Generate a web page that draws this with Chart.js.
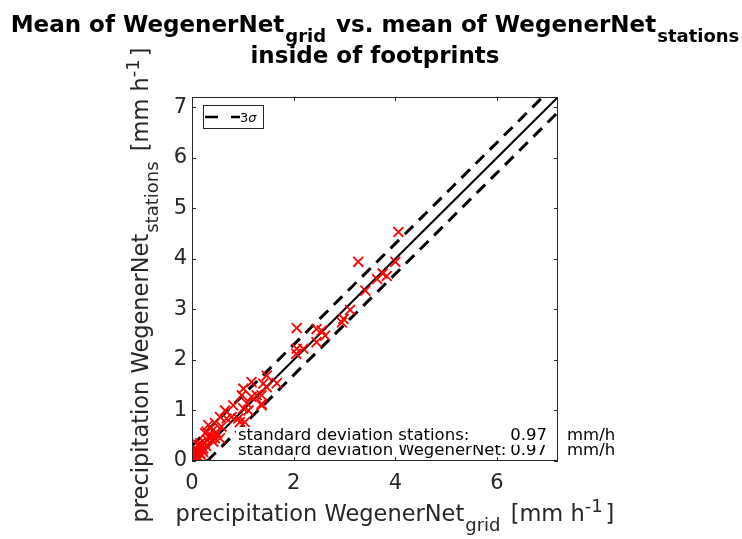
<!DOCTYPE html>
<html>
<head>
<meta charset="utf-8">
<script src="https://cdn.jsdelivr.net/npm/chart.js@4.4.0/dist/chart.umd.min.js"></script>
<style>
  html, body { margin: 0; padding: 0; background: #fff; }
</style>
</head>
<body>
<canvas id="scatter-chart" width="742" height="539"></canvas>
<script>
// mean precipitation per footprint, grid (x) vs stations (y), mm/h
var gridMean = [
  4.06, 3.27, 4.00, 3.75, 3.83, 3.64, 3.41, 3.11, 2.98, 2.95,
  2.06, 2.45, 2.55, 2.62, 2.45, 2.06, 2.19, 2.05, 1.67, 1.40,
  1.47, 1.37, 1.27, 0.98, 1.37, 1.17, 1.08, 1.01, 1.11, 0.78,
  0.68, 0.91, 0.94, 1.04, 0.45, 0.58, 0.29, 0.49, 0.35, 0.55,
  0.16, 0.42, 0.22, 0.09, 0.06, 0.16, 0.00, 1.01, 1.17, 0.32,
  0.26, 0.55, 0.65, 0.81, 0.45, 1.37, 1.47, 0.02, 0.04, 0.05,
  0.08, 0.10, 0.12, 0.13, 0.18, 0.20, 0.03, 0.25, 0.28, 0.15,
  0.07, 0.01, 0.22, 0.30, 0.10, 0.00, 0.12, 0.35, 0.40, 0.05
];
var stationMean = [
  4.53, 3.94, 3.94, 3.71, 3.66, 3.60, 3.37, 2.99, 2.81, 2.74,
  2.63, 2.61, 2.58, 2.48, 2.35, 2.22, 2.22, 2.12, 1.54, 1.53,
  1.46, 1.30, 1.30, 1.30, 1.10, 1.27, 1.14, 1.04, 1.00, 0.87,
  0.84, 0.84, 0.77, 0.77, 0.75, 0.68, 0.58, 0.55, 0.45, 0.45,
  0.35, 0.38, 0.25, 0.22, 0.08, 0.15, 0.00, 1.43, 1.56, 0.71,
  0.55, 0.87, 1.00, 1.10, 0.45, 1.13, 1.69, 0.05, 0.02, 0.12,
  0.04, 0.10, 0.20, 0.06, 0.12, 0.22, 0.18, 0.35, 0.30, 0.28,
  0.15, 0.01, 0.18, 0.42, 0.00, 0.08, 0.32, 0.50, 0.60, 0.25
];
var diagX = [0, 7.2];
var diagY = [0, 7.2];
var upperX = [0, 6.9];
var upperY = [0.3, 7.2];
var lowerX = [0.3, 7.2];
var lowerY = [0, 6.9];
var xTicks = [0, 2, 4, 6];
var yTicks = [0, 1, 2, 3, 4, 5, 6, 7];
var axisMax = 7.2;
var stdStations = '0.97';
var stdWegenerNet = '0.97';

var FONT = '"DejaVu Sans", sans-serif';
var AXIS_COLOR = '#262626';

function toPoints(xs, ys) {
  var pts = [];
  for (var i = 0; i < xs.length; i++) {
    pts.push({ x: xs[i], y: ys[i] });
  }
  return pts;
}

// text with sub/superscript pieces, drawn on one baseline
function drawRich(ctx, parts, x, y, size, weight, align) {
  var total = 0;
  for (var i = 0; i < parts.length; i++) {
    var p = parts[i];
    p.size = p.sub || p.sup ? Math.round(size * 0.78) : size;
    ctx.font = (p.it ? 'italic ' : '') + weight + ' ' + p.size + 'px ' + FONT;
    p.w = ctx.measureText(p.t).width + (p.gap || 0);
    total += p.w;
  }
  var cx = align === 'center' ? x - total / 2 : x;
  ctx.textAlign = 'left';
  ctx.textBaseline = 'alphabetic';
  for (var j = 0; j < parts.length; j++) {
    var q = parts[j];
    ctx.font = (q.it ? 'italic ' : '') + weight + ' ' + q.size + 'px ' + FONT;
    var dy = q.sub ? size * 0.45 : (q.sup ? -size * 0.4 : 0);
    ctx.fillText(q.t, cx, y + dy);
    cx += q.w;
  }
}

var decorations = {
  id: 'decorations',
  afterDraw: function (chart) {
    var ctx = chart.ctx;
    var area = chart.chartArea;
    var xs = chart.scales.x;
    var ys = chart.scales.y;
    var midX = (area.left + area.right) / 2;
    var midY = (area.top + area.bottom) / 2;
    ctx.save();

    // stats text, first line has a white background that hides the top of the second
    ctx.fillStyle = '#000';
    ctx.font = '16.5px ' + FONT;
    ctx.textBaseline = 'alphabetic';
    ctx.textAlign = 'left';
    ctx.fillText('standard deviation WegenerNet:', area.left + 46, area.bottom - 6);
    ctx.textAlign = 'right';
    ctx.fillText(stdWegenerNet, area.right - 11, area.bottom - 6);
    ctx.fillStyle = '#fff';
    ctx.fillRect(area.left + 44, area.bottom - 34, area.right - area.left - 52, 18);
    ctx.fillStyle = '#000';
    ctx.textAlign = 'left';
    ctx.fillText('standard deviation stations:', area.left + 46, area.bottom - 21);
    ctx.textAlign = 'right';
    ctx.fillText(stdStations, area.right - 11, area.bottom - 21);
    ctx.textAlign = 'left';
    ctx.fillText('mm/h', area.right + 9, area.bottom - 21);
    ctx.fillText('mm/h', area.right + 9, area.bottom - 6);

    // axes box with inward ticks
    ctx.strokeStyle = AXIS_COLOR;
    ctx.lineWidth = 1;
    ctx.strokeRect(area.left + 0.5, area.top + 0.5, area.right - area.left - 1, area.bottom - area.top - 1);
    ctx.beginPath();
    xTicks.forEach(function (v) {
      var px = Math.round(xs.getPixelForValue(v)) + 0.5;
      ctx.moveTo(px, area.bottom); ctx.lineTo(px, area.bottom - 4);
      ctx.moveTo(px, area.top); ctx.lineTo(px, area.top + 4);
    });
    yTicks.forEach(function (v) {
      var py = Math.round(ys.getPixelForValue(v)) + 0.5;
      ctx.moveTo(area.left, py); ctx.lineTo(area.left + 4, py);
      ctx.moveTo(area.right, py); ctx.lineTo(area.right - 4, py);
    });
    ctx.stroke();

    // legend
    var lx = area.left + 11, ly = area.top + 8;
    ctx.fillStyle = '#fff';
    ctx.fillRect(lx, ly, 60, 23);
    ctx.strokeStyle = AXIS_COLOR;
    ctx.strokeRect(lx + 0.5, ly + 0.5, 60, 23);
    ctx.strokeStyle = '#000';
    ctx.lineWidth = 2.5;
    ctx.setLineDash([13, 13]);
    ctx.beginPath();
    ctx.moveTo(lx + 2, ly + 12);
    ctx.lineTo(lx + 37, ly + 12);
    ctx.stroke();
    ctx.setLineDash([]);
    ctx.fillStyle = '#000';
    drawRich(ctx, [{ t: '3' }, { t: '\u03c3', it: true }], lx + 37, ly + 17, 13, 'normal', 'left');
    ctx.lineWidth = 1;

    // title
    ctx.fillStyle = '#000';
    drawRich(ctx, [
      { t: 'Mean of WegenerNet', gap: 1 },
      { t: 'grid', sub: true, gap: 2 },
      { t: ' vs. mean of WegenerNet', gap: 1 },
      { t: 'stations', sub: true }
    ], midX, 32, 23, 'bold', 'center');
    drawRich(ctx, [{ t: 'inside of footprints' }], midX, 63, 23, 'bold', 'center');

    // x label
    ctx.fillStyle = AXIS_COLOR;
    drawRich(ctx, [
      { t: 'precipitation WegenerNet', gap: 1 },
      { t: 'grid', sub: true, gap: 3 },
      { t: ' [mm h' },
      { t: '-1', sup: true, gap: 3 },
      { t: ']' }
    ], midX + 20, 521, 22.5, 'normal', 'center');

    // y label
    ctx.translate(148, midY + 6);
    ctx.rotate(-Math.PI / 2);
    drawRich(ctx, [
      { t: 'precipitation WegenerNet', gap: 1 },
      { t: 'stations', sub: true, gap: 3 },
      { t: ' [mm h' },
      { t: '-1', sup: true, gap: 3 },
      { t: ']' }
    ], 0, 0, 22.5, 'normal', 'center');
    ctx.restore();
  }
};

var ctx = document.getElementById('scatter-chart').getContext('2d');
new Chart(ctx, {
  type: 'scatter',
  data: {
    datasets: [{
      label: 'footprints',
      data: toPoints(gridMean, stationMean),
      pointStyle: 'crossRot',
      pointRadius: 7,
      borderColor: '#ff0000',
      backgroundColor: '#ff0000',
      borderWidth: 1.8,
      showLine: false,
      order: 0
    }, {
      label: '1:1',
      data: toPoints(diagX, diagY),
      showLine: true,
      pointRadius: 0,
      borderColor: '#000',
      borderWidth: 2,
      order: 1
    }, {
      label: '3\u03c3',
      data: toPoints(upperX, upperY),
      showLine: true,
      pointRadius: 0,
      borderColor: '#000',
      borderWidth: 3,
      borderDash: [12, 8],
      order: 1
    }, {
      label: '3\u03c3 lower',
      data: toPoints(lowerX, lowerY),
      showLine: true,
      pointRadius: 0,
      borderColor: '#000',
      borderWidth: 3,
      borderDash: [12, 8],
      order: 1
    }]
  },
  options: {
    responsive: false,
    animation: false,
    events: [],
    layout: { padding: { left: 0, top: 97, right: 184, bottom: 0 } },
    plugins: {
      legend: { display: false },
      title: { display: false },
      tooltip: { enabled: false }
    },
    scales: {
      x: {
        type: 'linear',
        min: 0,
        max: axisMax,
        grid: { display: false, drawTicks: false },
        border: { display: false },
        ticks: { color: AXIS_COLOR, font: { family: FONT, size: 21 }, padding: 10 },
        afterBuildTicks: function (scale) {
          scale.ticks = xTicks.map(function (v) { return { value: v }; });
        },
        afterFit: function (scale) { scale.height = 78; }
      },
      y: {
        type: 'linear',
        min: 0,
        max: axisMax,
        grid: { display: false, drawTicks: false },
        border: { display: false },
        ticks: { color: AXIS_COLOR, font: { family: FONT, size: 21 }, padding: 5 },
        afterBuildTicks: function (scale) {
          scale.ticks = yTicks.map(function (v) { return { value: v }; });
        },
        afterFit: function (scale) { scale.width = 192; }
      }
    }
  },
  plugins: [decorations]
});
</script>
</body>
</html>
